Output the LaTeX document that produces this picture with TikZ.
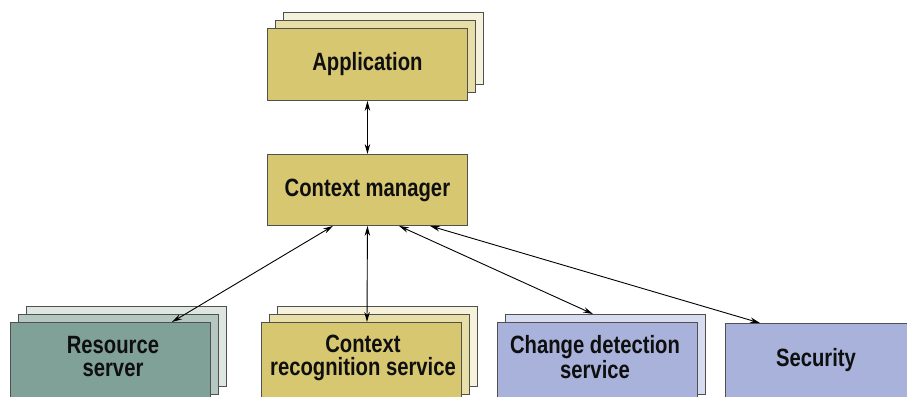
\documentclass[tikz,border=0pt]{standalone}
\usepackage{fontspec}
\setmainfont{Liberation Sans}[FakeStretch=0.81]
\usetikzlibrary{arrows.meta,calc}
\definecolor{ylfront}{RGB}{214,199,112}
\definecolor{ylmid}{RGB}{232,222,167}
\definecolor{ylback}{RGB}{245,241,218}
\definecolor{tlfront}{RGB}{127,161,152}
\definecolor{tlmid}{RGB}{180,199,193}
\definecolor{tlback}{RGB}{222,230,226}
\definecolor{blfront}{RGB}{168,178,218}
\definecolor{blback}{RGB}{216,220,240}
\definecolor{bordergray}{RGB}{80,80,80}
\definecolor{txt}{RGB}{15,15,15}
\begin{document}
\begin{tikzpicture}[x=1pt,y=-1pt,
  box/.style={draw=bordergray, line width=0.9pt, minimum width=200pt, minimum height=72pt,
    inner sep=0pt, anchor=north west, text=txt, font=\bfseries\fontsize{25}{23}\selectfont},
  tallbox/.style={box, minimum height=80pt},
  lbl/.style={text=txt, align=center, inner sep=0pt, font=\bfseries\fontsize{25}{23}\selectfont},
  arr/.style={{Stealth[length=10pt,width=5.5pt]}-{Stealth[length=10pt,width=5.5pt]}, line width=0.9pt, black}]
\useasboundingbox (0,0) rectangle (907,396);
\clip (0,0) rectangle (907,396);
% Application
\node[box, fill=ylback] (appb) at (283,12) {};
\node[box, fill=ylmid] (appm) at (275,20) {};
\node[box, fill=ylfront] (app) at (267,28) {Application};
% Context manager
\node[box, fill=ylfront, minimum height=71pt] (cm) at (267,154) {Context manager};
% Resource server
\node[tallbox, fill=tlback] (rsb) at (26,306) {};
\node[tallbox, fill=tlmid] (rsm) at (18,314) {};
\node[tallbox, fill=tlfront] (rs) at (10,322) {};
\node[lbl] (rst) at (113,357) {Resource\\server};
% Context recognition service
\node[tallbox, fill=ylback] (crsb) at (277,306) {};
\node[tallbox, fill=ylmid] (crsm) at (269,314) {};
\node[tallbox, fill=ylfront] (crs) at (261,322) {};
\node[lbl] (crst) at (363,358) {Context\\recognition service};
% Change detection service
\node[tallbox, fill=blback] (cdsb) at (505,314) {};
\node[tallbox, fill=blfront] (cds) at (497,322) {};
\node[lbl] (cdst) at (595,357) {Change detection\\service};
% Security
\node[tallbox, fill=blfront, minimum width=190pt] (sec) at (725,323) {};
\node[lbl] (sect) at (816,360) {Security};
% Connectors
\draw[arr] (app.south) -- (cm.north);
\draw[arr] ($(cm.south west)+(66,0)$) -- ($(rs.north west)+(162,0)$);
\draw[arr] (cm.south) -- ($(crs.north west)+(106,0)$);
\draw[arr] ($(cm.south west)+(132,0)$) -- ($(cdsb.north west)+(88,0)$);
\draw[arr] ($(cm.south west)+(163,0)$) -- ($(sec.north west)+(35,0)$);
\end{tikzpicture}
\end{document}
